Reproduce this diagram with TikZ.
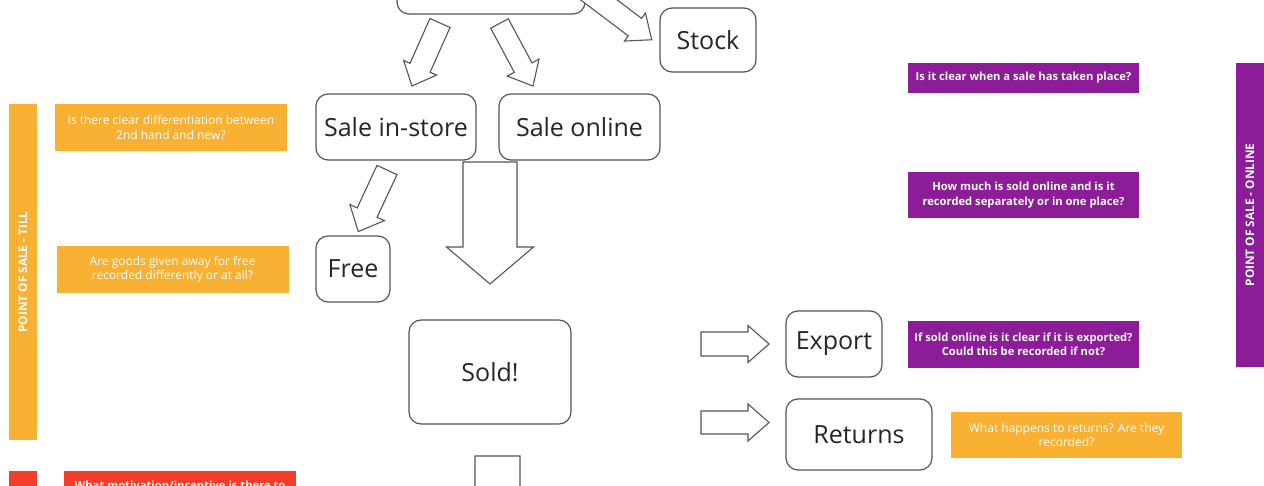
\documentclass[tikz,border=0pt]{standalone}
\usepackage{fontspec}
\setmainfont{Open Sans}
\usetikzlibrary{calc}
\definecolor{edge}{HTML}{555555}
\definecolor{tillorange}{HTML}{F8B133}
\definecolor{onlinepurple}{HTML}{8C1C97}
\definecolor{alertred}{HTML}{F23D2B}
\tikzset{
  stage/.style={draw=edge, line width=1.2pt, rounded corners=12pt, fill=white,
    inner sep=0pt, font=\fontsize{25}{30}\selectfont, text=black!85},
  blk/.style={draw=edge, line width=1.1pt, fill=white, line join=miter},
  note/.style={inner sep=0pt, minimum width=232pt, align=center, text=white,
    font=\fontsize{12}{14.5}\selectfont},
  tillnote/.style={note, fill=tillorange},
  onlinenote/.style={note, fill=onlinepurple, font=\fontsize{11.2}{14.5}\selectfont\bfseries},
  bar/.style={inner sep=0pt, minimum height=28pt, rotate=90, text=white,
    font=\fontsize{11.8}{13}\selectfont\bfseries},
}
% block arrow: tail centre, canvas angle, length, half shaft, half head, head length
\newcommand{\blockarrow}[6]{%
  \begin{scope}[shift={#1}, rotate=#2]
    \draw[blk] (0,#4) -- ({#3-#6},#4) -- ({#3-#6},#5) -- (#3,0)
      -- ({#3-#6},-#5) -- ({#3-#6},-#4) -- (0,-#4) -- cycle;
  \end{scope}}
\begin{document}
\begin{tikzpicture}[x=1pt, y=-1pt]
\useasboundingbox (0,0) rectangle (1264,486);
\clip (0,0) rectangle (1264,486);
\fill[white] (0,0) rectangle (1264,486);

% flow stages
\node[stage, minimum width=188pt, minimum height=68pt] (top) at (491,-20) {};
\node[stage, minimum width=96pt, minimum height=64pt] (stock) at (708,40) {Stock};
\node[stage, minimum width=160pt, minimum height=66pt] (instore) at (396,127) {Sale in-store};
\node[stage, minimum width=161pt, minimum height=66pt] (online) at (579.5,127) {Sale online};
\node[stage, minimum width=74pt, minimum height=66pt] (free) at (353,269) {Free};
\node[stage, minimum width=162pt, minimum height=104pt] (sold) at (490,372) {Sold!};
\node[stage, minimum width=96pt, minimum height=66pt] (export) at (834,344) {Export};
\node[stage, minimum width=146pt, minimum height=71pt] (returns) at (859,434.5) {Returns};

% block arrows between stages
\blockarrow{(440,23)}{-114}{69}{11}{18}{20}
\blockarrow{(499.5,23.5)}{-61.8}{71}{10}{18}{21}
\blockarrow{(587,-9)}{-37}{81}{11}{17.5}{21}
\blockarrow{(387,170)}{-115}{68}{11}{19}{21}
\blockarrow{(490,162)}{-90}{122}{27}{43.5}{37}
\blockarrow{(701,344)}{0}{68}{12}{18.5}{21}
\blockarrow{(701,422.5)}{0}{68}{11.5}{18.5}{21}
\blockarrow{(497.5,456)}{-90}{80}{22.5}{35}{25}

% point of sale - till
\node[bar, fill=tillorange, minimum width=336pt] (tillbar) at (23,272) {POINT OF SALE - TILL};
\node[tillnote, minimum height=47pt] (q1) at (171,127.5)
  {Is there clear differentiation between\\2nd hand and new?};
\node[tillnote, minimum height=47pt] (q2) at (172.5,269.5)
  {Are goods given away for free\\recorded differently or at all?};
\node[tillnote, minimum width=231pt, minimum height=46pt] (q7) at (1066.5,435)
  {What happens to returns? Are they\\recorded?};

% point of sale - online
\node[bar, fill=onlinepurple, minimum width=304pt] (onlinebar) at (1250,215) {POINT OF SALE - ONLINE};
\node[onlinenote, minimum width=231pt, minimum height=30pt] (q3) at (1023.5,78)
  {Is it clear when a sale has taken place?};
\node[onlinenote, minimum width=231pt, minimum height=46pt] (q4) at (1023.5,195)
  {How much is sold online and is it\\recorded separately or in one place?};
\node[onlinenote, minimum width=231pt, minimum height=47pt] (q6) at (1023.5,344.5)
  {If sold online is it clear if it is exported?\\Could this be recorded if not?};

% incentives
\node[fill=alertred, minimum width=28pt, minimum height=40pt, inner sep=0pt, anchor=north] (redbar) at (23,471) {};
\node[fill=alertred, minimum width=232pt, minimum height=47pt, inner sep=0pt, anchor=north] (q5box) at (180,471) {};
\node[anchor=north, inner sep=0pt, text=white, font=\fontsize{11.2}{14.5}\selectfont\bfseries] (q5) at (180,480.5)
  {What motivation/incentive is there to};
\end{tikzpicture}
\end{document}
